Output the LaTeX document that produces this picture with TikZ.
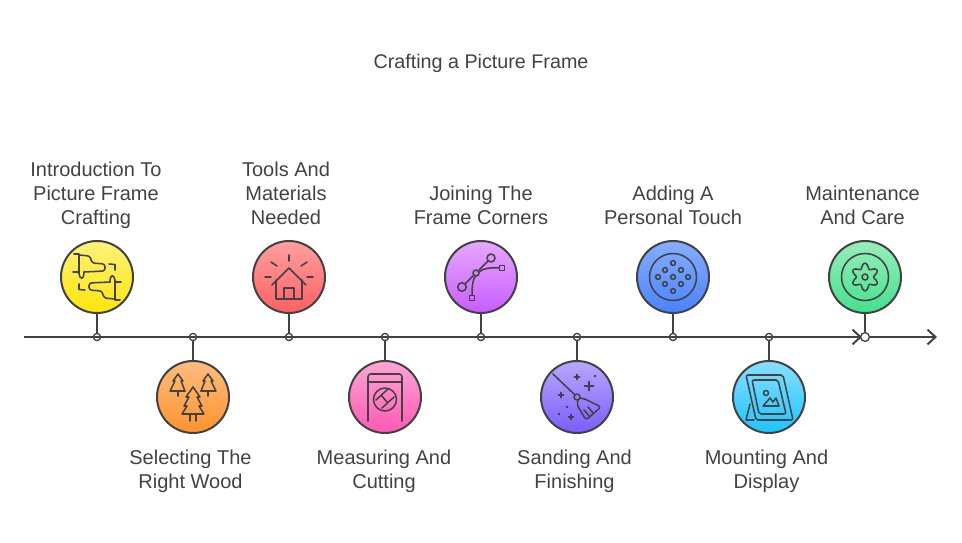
\documentclass[tikz,border=0pt]{standalone}
\usepackage{fontspec}
\setmainfont{Liberation Sans}
\usetikzlibrary{arrows.meta}
\definecolor{ink}{HTML}{424242}
\tikzset{
  stepcircle/.style={circle, draw=ink, line width=1.5pt, minimum size=54pt, inner sep=0pt},
  tick/.style={circle, draw=ink, line width=1pt, fill=white, minimum size=5.4pt, inner sep=0pt},
  stem/.style={draw=ink, line width=1.5pt},
  axisline/.style={draw=ink, line width=1.5pt, -{Straight Barb[length=6pt,width=11pt,line width=1.5pt]}},
  icon/.style={draw=ink, line width=1.15pt, line join=round, line cap=round},
  lbl/.style={text=ink, align=center, font=\fontsize{15}{18}\selectfont,
    execute at begin node=\strut, execute at end node=\strut},
}
\begin{document}
\begin{tikzpicture}[x=0.75pt, y=-0.75pt]
  \useasboundingbox (0,0) rectangle (962,542);
  \node[lbl, font=\fontsize{14.8}{18}\selectfont] (title) at (481,64) {Crafting a Picture Frame};
  \coordinate (start) at (24,337);
  \coordinate (mid) at (862,337);
  \coordinate (end) at (937,337);
  \foreach \n/\px/\py/\ctop/\cbot in {
    1/97/277/FFF27A/FFE50A, 2/193/397/FFBD80/FF932E, 3/289/277/FFA0A0/FF5F62,
    4/385/397/FFA6D6/FF58B2, 5/481/277/E6A8FF/C85CFF, 6/577/397/B8A8FF/7A5CFF,
    7/673/277/86AEFF/4A82FF, 8/769/397/88DFFF/1CC4FF, 9/865/277/98EEBC/44E08C} {
    \definecolor{ctop}{HTML}{\ctop}
    \definecolor{cbot}{HTML}{\cbot}
    \node[tick] (d\n) at (\px,337) {};
    \node[stepcircle, top color=ctop, bottom color=cbot] (n\n) at (\px,\py) {};
    \draw[stem] (n\n) -- (d\n);
  }
  \draw[axisline] (start) -- (mid);
  \draw[axisline] (start) -- (end);
  \node[tick, minimum size=6.6pt] (d9) at (865,337) {};
  \foreach \n/\px/\py/\txt in {
    1/96/197/{Introduction To\\Picture Frame\\Crafting},
    2/190.5/473/{Selecting The\\Right Wood},
    3/286/197/{Tools And\\Materials\\Needed},
    4/384/473/{Measuring And\\Cutting},
    5/481/209/{Joining The\\Frame Corners},
    6/574.5/473/{Sanding And\\Finishing},
    7/673/209/{Adding A\\Personal Touch},
    8/766.5/473/{Mounting And\\Display},
    9/862.5/209/{Maintenance\\And Care}} {
    \node[lbl] (l\n) at (\px,\py) {\txt};
  }
  % wood grain
  \begin{scope}[shift={(n1.center)}, icon]
    \foreach \r in {0,180} {
      \begin{scope}[rotate=\r]
        \draw (-23,-23) -- (-18,-23) -- (-18,-3) .. controls (-17,3) and (-13,3) .. (-13,-5);
        \draw[rounded corners=2pt] (-18,-22) -- (-7,-21) -- (-5,-14) -- (8,-13) -- (8,-6) -- (-13,-5);
        \draw (-24,-5) -- (-18,-5);
        \draw (12,-13) -- (18,-12.5) -- (18,-7);
      \end{scope}
    }
  \end{scope}
  % trees
  \begin{scope}[shift={(n2.center)}, icon]
    \draw (0,-10) -- (7,0) -- (4,0) -- (9,9) -- (6,9) -- (11,17) -- (-11,17) -- (-6,9)
      -- (-9,9) -- (-4,0) -- (-7,0) -- cycle;
    \draw (-3,17) -- (-3,24) (3,17) -- (3,24);
    \foreach \s in {-1,1} {
      \draw (\s*15,-23) -- (\s*20,-16) -- (\s*18,-16) -- (\s*23,-6) -- (\s*8,-6);
      \draw (\s*15,-23) -- (\s*10,-16) -- (\s*12,-16) -- (\s*8,-6);
      \draw (\s*15,-6) -- (\s*15,-1);
    }
  \end{scope}
  % house
  \begin{scope}[shift={(n3.center)}, icon]
    \draw (-17,8) -- (0,-9) -- (17,8);
    \draw (-13,3) -- (-13,22) -- (13,22) -- (13,3);
    \draw (-5,22) -- (-5,11) -- (5,11) -- (5,22);
    \draw (0,-22) -- (0,-16) (-18,-15) -- (-12,-11) (18,-15) -- (12,-11)
      (-24,0) -- (-18,0) (24,0) -- (18,0);
  \end{scope}
  % saw table
  \begin{scope}[shift={(n4.center)}, icon]
    \draw[rounded corners=2pt] (-17,24) -- (-17,-23) -- (17,-23) -- (17,24);
    \draw (-17,-15) -- (17,-15);
    \draw (0,2.5) circle (11.5);
    \draw (-9,3) -- (3,-8) (-3,11) -- (9,0) (-4,-2) -- (2,5);
  \end{scope}
  % corner joint
  \begin{scope}[shift={(n5.center)}, icon]
    \draw (7,-16) -- (-2,-7) (-8,-1) -- (-16,7);
    \draw (10,-19) circle (4);
    \draw (-19,10) circle (4.3);
    \draw (-5,-4) circle (3);
    \draw (-9,18.5) .. controls (-9,8) and (-8,2) .. (-5.5,-1);
    \draw (-2,-5) .. controls (2,-9) and (10,-9.5) .. (18.5,-9);
    \draw (18.5,-11.5) rectangle (23.5,-6.5);
    \draw (-11.5,18.5) rectangle (-6.5,23.5);
  \end{scope}
  % broom
  \begin{scope}[shift={(n6.center)}, icon]
    \draw (-24,-23) -- (-2,-2);
    \draw (0,0) circle (3);
    \draw[rounded corners=2pt] (1,3) -- (0,8) -- (9,23) -- (24,10) -- (8,2) -- (3,1);
    \draw (7,13) -- (13,20) (11,10) -- (16,16);
    \draw (12,-15.5) -- (12,-6.5) (7.5,-11) -- (16.5,-11);
    \foreach \sx/\sy in {0/-20,-16/-2,-6/20} {
      \draw (\sx,\sy-2.5) -- (\sx,\sy+2.5) (\sx-2.5,\sy) -- (\sx+2.5,\sy);
    }
    \foreach \sx/\sy in {18/-21,-10/10,-18/17} {
      \fill[ink] (\sx,\sy) circle (1.3);
    }
  \end{scope}
  % dotted disc
  \begin{scope}[shift={(n7.center)}, icon]
    \draw (0,0) circle (23.5);
    \foreach \sx/\sy in {0/0,0/-14,0/14,-15/0,15/0,-8/-7,8/-7,-8/7,8/7} {
      \draw (\sx,\sy) circle (2.4);
    }
  \end{scope}
  % picture on a stand
  \begin{scope}[shift={(n8.center)}, icon]
    \draw[rounded corners=1.5pt] (-23,-22) -- (14,-22) -- (24,23) -- (-13,23) -- cycle;
    \draw[rounded corners=1.5pt] (-17,-17) -- (9,-17) -- (17,17) -- (-10,17) -- cycle;
    \draw (-19,7) -- (-23,23) -- (-15,23);
    \draw (-3,-4) circle (2.5);
    \draw (-6,9) -- (1,1) -- (4,5) -- (7,1) -- (10,9) -- cycle;
  \end{scope}
  % gear
  \begin{scope}[shift={(n9.center)}, icon]
    \draw (0,0) circle (23.5);
    \draw plot[domain=0:355, samples=72, smooth cycle] ({(11.2+2.6*cos(6*\x))*cos(\x+90)}, {(11.2+2.6*cos(6*\x))*sin(\x+90)});
    \draw (0,0) circle (3);
  \end{scope}
\end{tikzpicture}
\end{document}
